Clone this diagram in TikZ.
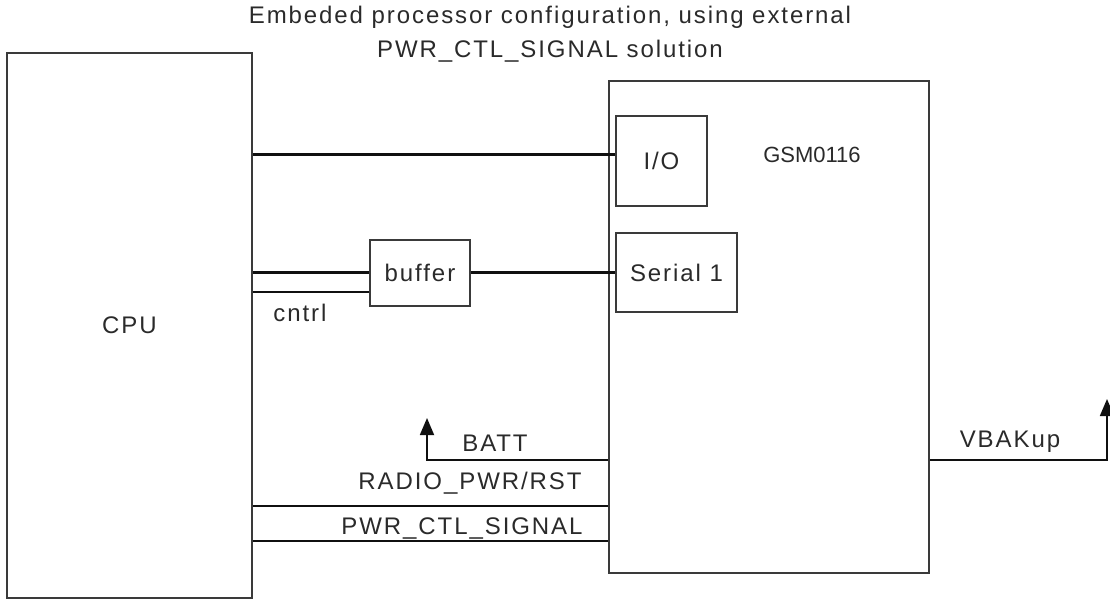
\documentclass[tikz,border=0pt]{standalone}
\usepackage{fontspec}
\setmainfont[LetterSpace=8]{Liberation Sans}
\newfontfamily\gsmFont{Liberation Sans}
\usepackage{xcolor}
\usetikzlibrary{positioning,calc,arrows.meta}
\definecolor{boxLine}{HTML}{3A3A3A}
\definecolor{wireLine}{HTML}{101010}
\definecolor{labelText}{HTML}{2A2A2A}

\def\px{0.5pt}

\tikzset{
  blk/.style={draw=boxLine, line width=1pt, inner sep=0pt,
    font=\fontsize{12}{14}\selectfont, text=labelText},
  busW/.style={draw=wireLine, line width=1.5pt},
  sigW/.style={draw=wireLine, line width=0.9pt},
  lbl/.style={font=\fontsize{12}{14}\selectfont, text=labelText, inner sep=0pt},
  upArr/.style={-{Triangle[width=7pt,length=8.5pt]}}
}

\begin{document}
\begin{tikzpicture}[x=\px,y=-\px]
\useasboundingbox (0,0) rectangle (1110,601);

% --- TITLE ---
\node[lbl] (title1) at (550,17) {Embeded processor configuration, using external};
\node[lbl] (title2) at (550,51) {PWR\_CTL\_SIGNAL solution};

% --- BLOCKS ---
\node[blk, minimum width=245*\px, minimum height=545*\px] (cpu) at (129.5,325.5) {CPU};
\node[blk, minimum width=320*\px, minimum height=492*\px] (gsm) at (769,327) {};
\node[blk, minimum width=91*\px, minimum height=90*\px] (io) at (661.5,161) {I/O};
\node[blk, minimum width=121*\px, minimum height=79*\px] (ser) at (676.5,272.5) {Serial 1};
\node[blk, minimum width=100*\px, minimum height=66*\px] (buf) at (420,273) {buffer};
\node[inner sep=0pt, font=\gsmFont\fontsize{11}{13}\selectfont, text=labelText]
  (gsmLbl) at (812,155) {GSM0116};

% --- SIGNAL LEVELS ---
\coordinate (yIO) at (0,154);
\coordinate (yBus) at (0,272);
\coordinate (yCtl) at (0,292);
\coordinate (yBatt) at (0,460);
\coordinate (yRst) at (0,506);
\coordinate (yPwr) at (0,541);
\coordinate (battUp) at (427,418);
\coordinate (vbakUp) at (1107,399);

% --- WIRES ---
\draw[busW] (cpu.east |- yIO) -- (io.west |- yIO);
\draw[busW] (cpu.east |- yBus) -- (buf.west |- yBus);
\draw[busW] (buf.east |- yBus) -- (ser.west |- yBus);
\draw[sigW] (cpu.east |- yCtl) -- (buf.west |- yCtl);
\draw[sigW, upArr] (gsm.west |- yBatt) -| (battUp);
\draw[sigW] (cpu.east |- yRst) -- (gsm.west |- yRst);
\draw[sigW] (cpu.east |- yPwr) -- (gsm.west |- yPwr);
\draw[sigW, upArr] (gsm.east |- yBatt) -| (vbakUp);

% --- WIRE LABELS ---
\node[lbl] (cntrlLbl) at (300,313) {cntrl};
\node[lbl] (battLbl) at (495,443) {BATT};
\node[lbl] (rstLbl) at (470,483) {RADIO\_PWR/RST};
\node[lbl] (pwrLbl) at (462,528) {PWR\_CTL\_SIGNAL};
\node[lbl] (vbakLbl) at (1010,442) {VBAKup};

\end{tikzpicture}
\end{document}
